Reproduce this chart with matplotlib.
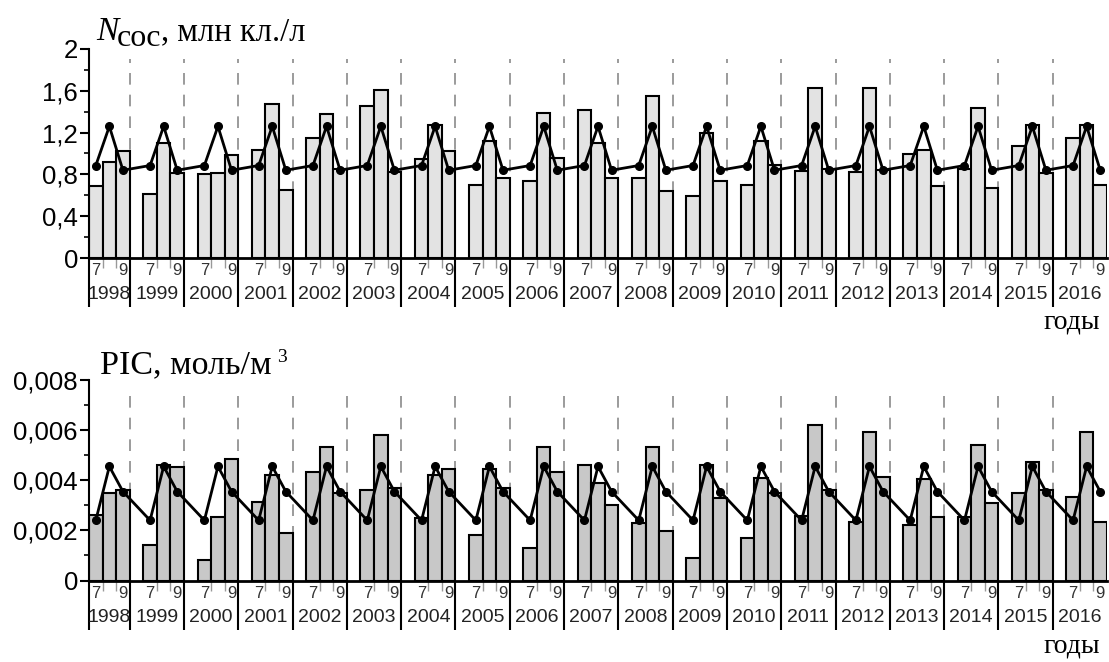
import matplotlib
matplotlib.use("Agg")
import matplotlib.pyplot as plt
from matplotlib.ticker import FixedLocator, MultipleLocator, FuncFormatter

years = list(range(1998, 2017))

# N coc, million cells per litre (July, August, September)
ncoc_jul = [0.69, 0.61, 0.80, 1.03, 1.15, 1.45, 0.95, 0.70, 0.74, 1.42,
            0.77, 0.59, 0.70, 0.83, 0.82, 1.00, 0.85, 1.07, 1.15]
ncoc_aug = [0.915, 1.10, 0.81, 1.47, 1.38, 1.61, 1.27, 1.12, 1.39, 1.10,
            1.55, 1.20, 1.12, 1.63, 1.63, 1.03, 1.44, 1.27, 1.27]
ncoc_sep = [1.02, 0.81, 0.99, 0.65, 0.85, 0.82, 1.02, 0.77, 0.96, 0.77,
            0.64, 0.74, 0.89, 0.85, 0.84, 0.69, 0.67, 0.81, 0.70]
ncoc_mean = [0.885, 1.26, 0.84]

# PIC, mol/m3
pic_jul = [0.0026, 0.0014, 0.00081, 0.00312, 0.00432, 0.0036, 0.00251, 0.00181, 0.0013, 0.00461,
           0.00231, 0.0009, 0.00171, 0.00259, 0.00233, 0.00221, 0.00252, 0.00351, 0.00332]
pic_aug = [0.00348, 0.00461, 0.00254, 0.00421, 0.00532, 0.00581, 0.00421, 0.00444, 0.00532, 0.00388,
           0.00532, 0.00461, 0.00409, 0.00621, 0.00591, 0.00404, 0.00541, 0.00472, 0.00591]
pic_sep = [0.00361, 0.00452, 0.00484, 0.00191, 0.00348, 0.00371, 0.00444, 0.00371, 0.00431, 0.00302,
           0.00199, 0.00328, 0.00351, 0.00361, 0.00411, 0.00254, 0.00311, 0.00361, 0.00233]
pic_mean = [0.0024, 0.00455, 0.00355]

W, H = 1109, 662
sans = "Liberation Sans"
serif = "Liberation Serif"

fig = plt.figure(figsize=(W / 100, H / 100), dpi=100)
ax1 = fig.add_axes([89 / W, 1 - 258 / H, 1018 / W, 209 / H])
ax2 = fig.add_axes([89 / W, 1 - 580.5 / H, 1018 / W, 200.5 / H])


def comma(v, pos):
    if abs(v) < 1e-12:
        return "0"
    return f"{round(v, 6):g}".replace(".", ",")


def draw_panel(ax, jul, aug, sep, mean, color, ymax, major):
    starts = [4 * i for i in range(len(years))]
    for m, vals in enumerate([jul, aug, sep]):
        ax.bar([s + m for s in starts], vals, width=1, align="edge",
               color=color, edgecolor="black", linewidth=1.5, zorder=2)
    xs, ys = [], []
    for s in starts:
        for m in range(3):
            xs.append(s + m + 0.5)
            ys.append(mean[m])
    ax.plot(xs, ys, color="black", lw=2, marker="o", ms=5.5, zorder=4)

    seps = [0] + [4 * i - 1 for i in range(1, len(years))]
    for x in seps[1:]:
        ax.plot([x, x], [0, ymax * 0.95], color="#8a8a8a", lw=1.2,
                dashes=(7, 6), zorder=1)

    ax.set_xlim(0, 4 * len(years) - 1)
    ax.set_ylim(0, ymax)
    for sp in ["top", "right"]:
        ax.spines[sp].set_visible(False)
    ax.spines["left"].set_linewidth(1.5)
    ax.spines["bottom"].set_linewidth(2)

    ax.xaxis.set_major_locator(FixedLocator(seps))
    ax.xaxis.set_minor_locator(FixedLocator([s + k for s in starts for k in (1, 2)]))
    ax.tick_params(axis="x", which="major", length=35, width=1.5, labelbottom=False)
    ax.tick_params(axis="x", which="minor", length=7, width=1, color="#999999")

    ax.yaxis.set_major_locator(MultipleLocator(major))
    ax.yaxis.set_minor_locator(MultipleLocator(major / 2))
    ax.yaxis.set_major_formatter(FuncFormatter(comma))
    ax.tick_params(axis="y", which="major", length=6.5, width=1.5, pad=1.5, labelsize=18.5)
    ax.tick_params(axis="y", which="minor", length=3.5, width=1.2)
    for lab in ax.get_yticklabels():
        lab.set_family(sans)

    tr = ax.get_xaxis_transform()
    for i, (s, y) in enumerate(zip(starts, years)):
        for m, t in ((0, "7"), (2, "9")):
            ax.annotate(t, xy=(s + m + 0.5, 0), xycoords=tr, xytext=(0, -9),
                        textcoords="offset points", ha="center", va="center",
                        fontsize=12, color="#333333", family=sans)
        xc = 1.5 if i == 0 else s + 1
        ax.annotate(str(y), xy=(xc, 0), xycoords=tr, xytext=(0, -26.5),
                    textcoords="offset points", ha="center", va="center",
                    fontsize=14, color="#222222", family=sans)


draw_panel(ax1, ncoc_jul, ncoc_aug, ncoc_sep, ncoc_mean, "#e3e3e3", 2, 0.4)
draw_panel(ax2, pic_jul, pic_aug, pic_sep, pic_mean, "#c8c8c8", 0.008, 0.002)

# titles
tN = fig.text(96 / W, 1 - 40 / H, "N", fontsize=24, family=serif, style="italic",
              va="baseline")
t_coc = fig.add_artist(plt.Annotation("coc", xy=(1, 0), xycoords=tN, xytext=(-1, -4.5),
                                      textcoords="offset points", fontsize=23,
                                      family=serif, va="bottom",
                                      annotation_clip=False))
t_unit = fig.add_artist(plt.Annotation(", млн кл./л", xy=(1, 0), xycoords=t_coc,
                                       xytext=(0, 4.5), textcoords="offset points",
                                       fontsize=23.5, family=serif, va="bottom",
                                       annotation_clip=False))

tP = fig.text(100 / W, 1 - 373 / H, "PIC, моль/м", fontsize=24.5, family=serif,
              va="baseline")
fig.add_artist(plt.Annotation("3", xy=(1, 1), xycoords=tP, xytext=(4, 0),
                              textcoords="offset points", fontsize=14, family=serif,
                              va="top", annotation_clip=False))

for yb in (328, 653):
    fig.text(1100 / W, 1 - yb / H, "годы", fontsize=20, family=serif,
             ha="right", va="baseline")

fig.savefig("out.png", dpi=100)
